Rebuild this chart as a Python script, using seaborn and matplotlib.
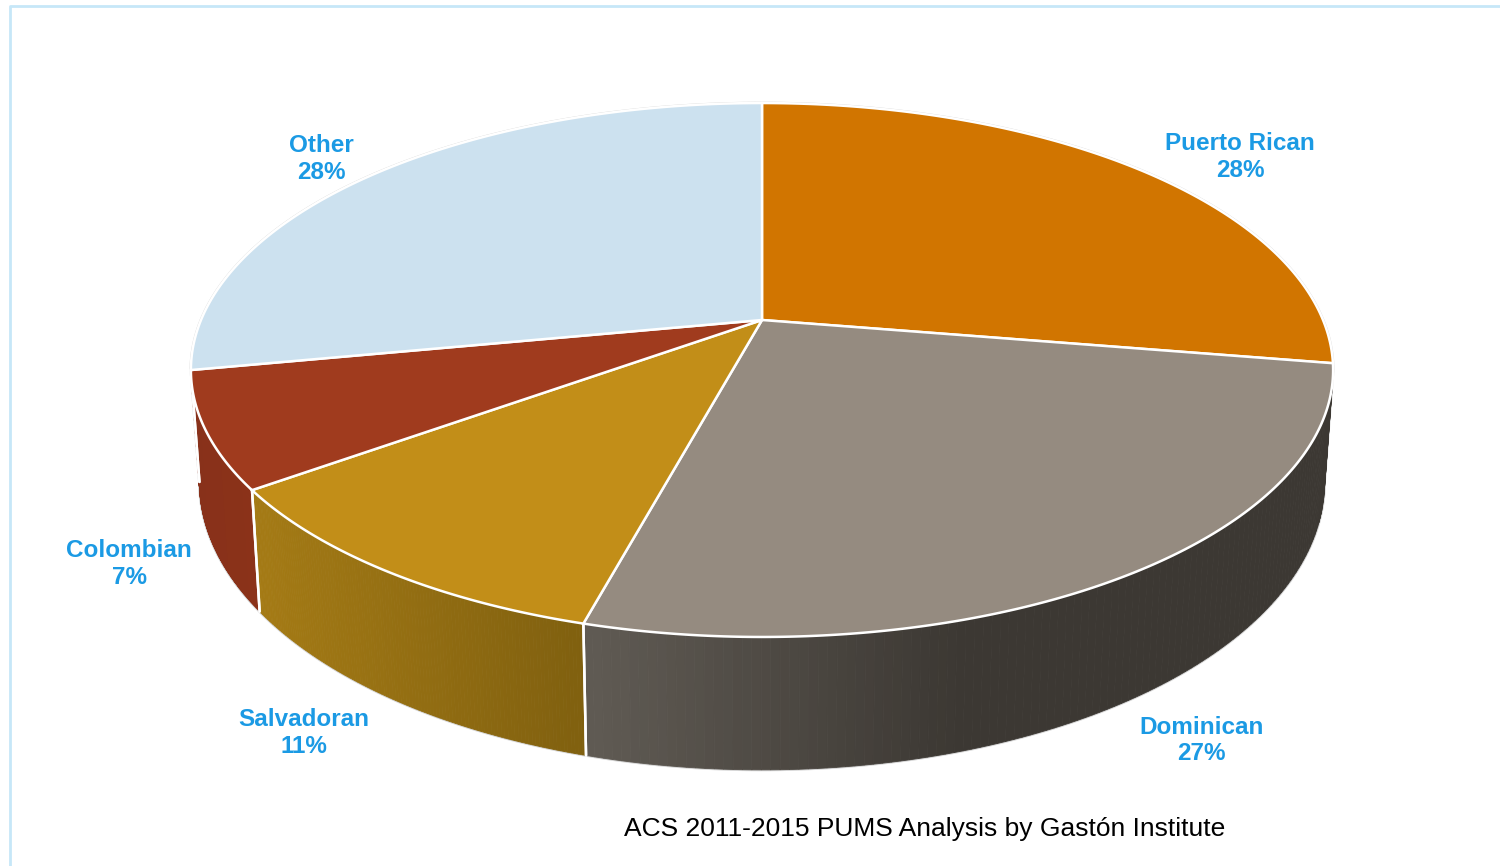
import numpy as np
import matplotlib
matplotlib.use("Agg")
import matplotlib.pyplot as plt
import seaborn as sns
from matplotlib.patches import Polygon

# data (slice sizes estimated from the drawn angles)
groups = ["Puerto Rican", "Dominican", "Salvadoran", "Colombian", "Other"]
shares = [27.6, 26.6, 10.8, 7.0, 28.0]
source_note = "ACS 2011-2015 PUMS Analysis by Gastón Institute"

# colours: top face, and the side gradient stops (left -> right)
top_colors = ["#D17500", "#958B80", "#C28E18", "#A03B1E", "#CCE1EF"]
side_stops = [
    ["#A85E00", "#8A4D00"],
    ["#605B54", "#3C3833", "#3C3833"],
    ["#A57B15", "#80600F"],
    ["#88311A", "#8B3219"],
    ["#A8BAC6", "#8FA0AC"],
]
label_color = "#1B9AE4"

# fake 3d projection of the pie disc
CX, CY = 762, 320
RX, RY = 561, 257.6
TILT = 0.1873
DEPTH = 108
SHRINK = 0.015


def project(phi, z=0.0):
    u = np.cos(phi)
    v = np.sin(phi)
    d = 1 + TILT * v
    x = CX + RX * u * (1 - SHRINK * z) / d
    y = CY - RY * v / d + z * DEPTH / d
    return x, y


sns.set_theme(style="white")
plt.rcParams["font.family"] = ["Liberation Sans", "DejaVu Sans"]

fig = plt.figure(figsize=(15, 8.66), dpi=100)
ax = fig.add_axes([0, 0, 1, 1])
ax.set_xlim(0, 1500)
ax.set_ylim(866, 0)
ax.axis("off")

# frame line (only top and left show)
ax.plot([10, 10, 1500], [866, 6, 6], color="#C6E7F8", lw=2, solid_capstyle="butt")

total = float(sum(shares))
cum = np.concatenate([[0], np.cumsum(shares)])
starts = np.deg2rad(90 - 360 * cum[:-1] / total)
ends = np.deg2rad(90 - 360 * cum[1:] / total)

vis_lo = -np.pi + np.arcsin(TILT)
vis_hi = -np.arcsin(TILT)

# faint grey outline of the whole silhouette
back = np.linspace(vis_hi, vis_lo + 2 * np.pi, 300)
front = np.linspace(vis_lo, vis_hi, 300)
bx, by = project(back)
fx, fy = project(front, 1.0)
sil = np.column_stack([np.concatenate([bx, fx]), np.concatenate([by, fy])])
ax.add_patch(Polygon(sil, closed=True, fill=False, ec="#D4D4D4", lw=2, zorder=1))

# side walls
for i in range(len(groups)):
    a = max(ends[i], vis_lo)
    b = min(starts[i], vis_hi)
    if b <= a:
        continue
    phis = np.linspace(a, b, 120)
    tx, ty = project(phis)
    lx, ly = project(phis, 1.0)
    pal = sns.blend_palette(side_stops[i], n_colors=101)
    x0, x1 = tx.min(), tx.max()
    for k in range(len(phis) - 1):
        quad = [(tx[k], ty[k]), (tx[k + 1], ty[k + 1]), (lx[k + 1], ly[k + 1]), (lx[k], ly[k])]
        t = ((tx[k] + tx[k + 1]) / 2 - x0) / (x1 - x0)
        c = pal[int(round(t * 100))]
        ax.add_patch(Polygon(quad, closed=True, fc=c, ec=c, lw=0.6, zorder=2))
    # white seams where one slice meets the next
    for edge, inside in ((a, a > vis_lo), (b, b < vis_hi)):
        if inside:
            ex0, ey0 = project(edge)
            ex1, ey1 = project(edge, 1.0)
            ax.plot([ex0, ex1], [ey0, ey1], color="white", lw=1.8, zorder=3)

# top faces
for i in range(len(groups)):
    phis = np.linspace(starts[i], ends[i], 200)
    px, py = project(phis)
    pts = np.column_stack([np.concatenate([[CX], px]), np.concatenate([[CY], py])])
    ax.add_patch(Polygon(pts, closed=True, fc=top_colors[i], ec="white", lw=1.8, zorder=4))

# labels
for i, name in enumerate(groups):
    mid = (starts[i] + ends[i]) / 2
    u, v = np.cos(mid), np.sin(mid)
    pct = int(round(100 * shares[i] / total))
    if v >= 0:
        x, y = project(mid)
        y -= 22 * v
    else:
        x, y = project(mid, 1.0)
        y -= 42 * v
    if u > 0:
        x += 22
        ha = "left"
    else:
        x -= 22
        ha = "right"
    ax.text(x, y, f"{name}\n{pct}%", ha=ha, va="center", multialignment="center",
            fontsize=17.5, fontweight="bold", color=label_color, zorder=5)

ax.text(925, 829, source_note, ha="center", va="center", fontsize=19, color="black")

fig.savefig("out.png", dpi=100)
